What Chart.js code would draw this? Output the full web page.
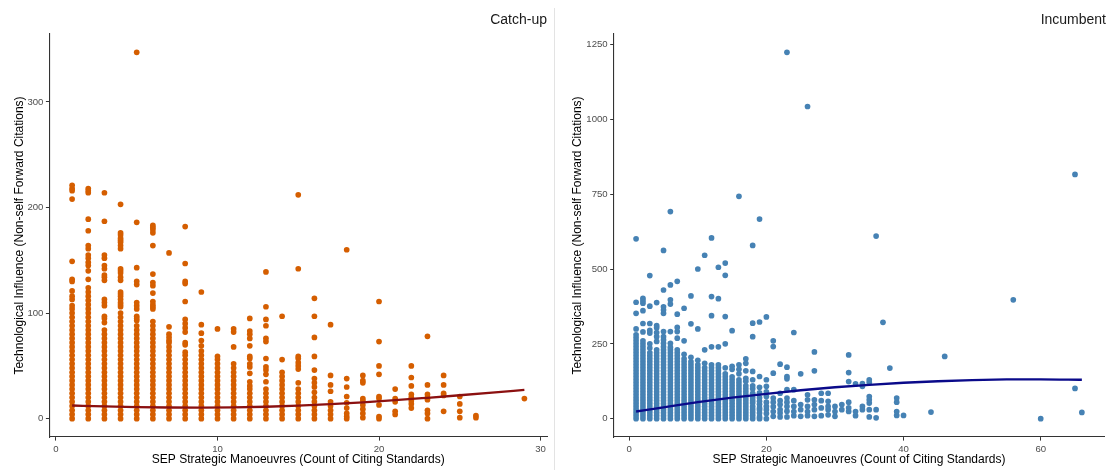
<!DOCTYPE html>
<html><head><meta charset="utf-8">
<script src="https://cdn.jsdelivr.net/npm/chart.js@4"></script>
<style>
html,body{margin:0;padding:0;background:#fff;width:1107px;height:470px;overflow:hidden}
#left{position:absolute;left:0;top:0}
#right{position:absolute;left:555px;top:0}
#sep{position:absolute;left:553.5px;top:8px;width:1px;height:462px;background:#e3e3e3}
</style></head><body>
<canvas id="left" width="553" height="470"></canvas>
<div id="sep"></div>
<canvas id="right" width="552" height="470"></canvas>
<script>
// ---------- Catch-up panel ----------
const catchupX = [1,2,3,4,5,6,7,8,9,10,11,12,13,14,15,16,17,18,19,20,21,22,23,24,25,26,29];
const catchupY = [
 [0,4,8,12,16,20,24,28,32,36,40,44,48,52,56,60,64,68,72,76,80,84,88,92,96,100,104,107,113,116,121,130,132,149,208,216,218,221],
 [0,4,8,12,16,20,24,28,32,36,40,44,48,52,56,60,64,68,72,76,80,84,88,92,96,100,104,108,112,116,120,124,132,140,145,148,152,155,161,164,178,189,214,216,218],
 [0,4,8,12,16,20,24,28,32,36,40,44,48,52,56,60,64,68,72,76,80,84,91,95,97,107,110,113,131,134,136,142,145,152,155,187,214],
 [0,4,8,12,16,20,24,28,32,36,40,44,48,52,56,60,64,68,72,76,80,84,88,92,96,100,106,108,110,113,116,118,120,131,134,138,140,142,161,164,167,169,171,174,176,203],
 [0,4,8,12,16,20,24,28,32,36,40,44,48,52,56,60,64,68,72,76,80,84,88,93,95,97,104,107,110,127,130,143,186,347],
 [0,4,8,12,16,20,24,28,32,36,40,44,48,52,56,60,64,68,72,76,80,84,88,92,104,106,108,111,119,126,129,137,164,176,179,181,183],
 [0,4,8,12,16,20,24,28,32,36,40,44,48,52,56,60,64,68,72,74,77,80,87,157],
 [0,4,8,12,16,20,24,28,32,36,40,44,48,52,56,60,63,70,72,82,86,90,94,111,128,130,147,182],
 [0,4,8,12,16,20,24,28,32,36,40,44,48,52,56,60,64,69,74,81,89,120],
 [0,4,8,12,16,20,24,28,32,36,40,44,48,52,56,59,85],
 [0,4,8,12,16,20,24,28,32,36,40,44,48,52,68,82,85],
 [0,4,8,12,16,20,24,28,31,35,43,49,52,57,59,69,76,80,83,95],
 [0,4,8,12,16,20,24,28,35,42,46,49,57,73,76,88,94,106,139],
 [0,4,8,12,16,20,24,28,32,36,40,44,56,97],
 [0,4,8,12,16,20,24,28,34,47,50,53,57,59,142,212],
 [0,4,8,12,16,20,25,30,34,38,46,59,77,97,114],
 [0,4,8,12,16,26,32,41,89],
 [0,2,5,10,15,21,30,38,160],
 [1,5,9,13,17,19,34,36,41],
 [0,2,13,19,21,42,50,73,111],
 [4,7,16,19,28],
 [10,14,17,20,23,31,39,50],
 [0,5,8,18,20,23,32,78],
 [7,22,24,32,41],
 [1,7,14,21],
 [1,3],
 [19]
];
const catchupFitX = [1,3,5,7,9,11,13,15,17,19,21,23,25,27,29];
const catchupFitY = [12.5,11.6,11.0,10.6,10.5,10.7,11.3,12.3,13.7,15.5,17.5,19.8,22.2,24.7,27.3];
const catchupXTicks = [0,10,20,30];
const catchupYTicks = [0,100,200,300];

// ---------- Incumbent panel ----------
const incumbentX = [1,2,3,4,5,6,7,8,9,10,11,12,13,14,15,16,17,18,19,20,21,22,23,24,25,26,27,28,29,30,31,32,33,34,35,36,37,38,39,40,44,46,56,60,65,66];
const incumbentY = [
 [0,10,20,30,40,50,60,70,80,90,100,110,120,130,140,150,160,170,180,190,200,210,220,230,240,250,260,270,280,300,352,389,601],
 [0,10,20,30,40,50,60,70,80,90,100,110,120,130,140,150,160,170,180,190,200,210,220,230,240,250,260,290,318,361,386,394,402],
 [0,10,20,30,40,50,60,70,80,90,100,110,120,130,140,150,160,170,180,190,200,210,220,236,250,286,295,318,376,478],
 [0,10,20,30,40,50,60,70,80,90,100,110,120,130,140,150,160,170,180,190,200,210,220,230,258,274,288,304,311,388],
 [0,10,20,30,40,50,60,70,80,90,100,110,120,130,140,150,160,170,180,190,200,210,220,230,240,252,263,274,291,352,363,374,430,562],
 [0,10,20,30,40,50,60,70,80,90,100,110,120,130,140,150,160,170,180,190,200,210,220,230,239,252,291,383,397,447,692],
 [0,10,20,30,40,50,60,70,80,90,100,110,120,130,140,150,160,170,180,190,200,210,220,230,269,291,305,349,459],
 [0,10,20,30,40,50,60,70,80,90,100,110,120,130,140,150,160,170,180,190,200,215,260,369],
 [0,10,20,30,40,50,60,70,80,90,100,110,120,130,140,150,160,170,180,190,205,317,410],
 [0,10,20,30,40,50,60,70,80,90,100,110,120,130,140,150,160,170,180,195,300,500],
 [0,10,20,30,40,50,60,70,80,90,100,110,120,130,140,150,160,170,185,230,546],
 [0,10,20,30,40,50,60,70,80,90,100,110,120,130,140,150,160,170,180,240,344,408,604],
 [0,10,20,30,40,50,60,70,80,90,100,110,120,130,140,150,160,170,180,240,401,506],
 [0,10,20,30,40,50,60,70,80,90,100,110,120,130,140,150,170,250,341,479,520],
 [0,10,20,30,40,50,60,70,80,90,100,110,120,130,140,165,175,294],
 [0,10,20,30,40,50,60,70,80,90,100,110,120,130,150,165,180,743],
 [0,10,20,30,40,50,60,70,80,90,100,110,125,135,160,185,200],
 [0,10,20,30,40,52,60,70,85,100,110,130,158,274,319,579],
 [0,6,19,30,36,48,58,70,86,105,141,323,667],
 [0,17,30,41,55,74,90,108,130,340],
 [8,24,40,55,69,152,241,260],
 [6,19,30,47,60,85,182],
 [6,25,41,55,69,97,133,141,172,1224],
 [10,24,41,60,97,288],
 [8,30,47,150],
 [10,24,41,63,80,1043],
 [8,30,47,63,160,223],
 [10,36,60,85],
 [13,30,41,58,85],
 [8,24,41],
 [30,47],
 [24,36,55,124,154,213],
 [10,24,116],
 [30,41,108,117],
 [6,30,52,63,74,121,130],
 [3,30,610],
 [322],
 [169],
 [11,24,55,69],
 [11],
 [22],
 [208],
 [397],
 [0],
 [101,816],
 [21]
];
const incumbentFitX = [1,5,10,15,20,25,30,35,40,45,50,55,60,66];
const incumbentFitY = [24,38,55,70,83,95,105,113,120,125,129,131,131.5,130];
const incumbentXTicks = [0,20,40,60];
const incumbentYTicks = [0,250,500,750,1000,1250];

const FONT = "'Liberation Sans', Arial, Helvetica, sans-serif";
const X_TITLE = 'SEP Strategic Manoeuvres (Count of Citing Standards)';
const Y_TITLE = 'Technological Influence (Non-self Forward Citations)';

function expand(vals){
  const mn = Math.min(...vals), mx = Math.max(...vals);
  const d = (mx - mn) * 0.05;
  return [mn - d, mx + d];
}

function makePanel(id, cfg){
  const pts = [];
  cfg.xs.forEach((x, i) => cfg.ys[i].forEach(y => pts.push({x: x, y: y})));
  const fit = cfg.fitX.map((x, i) => ({x: x, y: cfg.fitY[i]}));
  const xr = expand(pts.map(p => p.x));
  const yr = expand(pts.map(p => p.y));
  const axisCommon = () => ({
    grid: {display: true, drawOnChartArea: false, drawTicks: true, tickLength: 3.6, tickColor: '#333', tickWidth: 1},
    border: {display: true, color: '#333', width: 1.1},
    ticks: {color: '#4d4d4d', font: {family: FONT, size: 9.6}, padding: 2.5, callback: v => String(v)}
  });
  new Chart(document.getElementById(id), {
    data: {
      datasets: [
        {type: 'line', data: fit, borderColor: cfg.lineColor, borderWidth: 2.3, pointRadius: 0,
         cubicInterpolationMode: 'monotone', fill: false, order: 0},
        {type: 'scatter', data: pts, backgroundColor: cfg.pointColor, borderWidth: 0,
         pointRadius: cfg.radius, pointHoverRadius: cfg.radius, order: 1}
      ]
    },
    options: {
      responsive: false, animation: false, events: [],
      layout: {padding: {left: 0, right: cfg.padRight, top: 0, bottom: 0}},
      plugins: {
        legend: {display: false}, tooltip: {enabled: false},
        title: {display: true, text: cfg.title, align: 'end', color: '#1a1a1a',
                font: {family: FONT, size: 14, weight: 'normal'}, padding: {top: 11.6, bottom: 5.6}}
      },
      scales: {
        x: Object.assign(axisCommon(), {
          type: 'linear', min: xr[0], max: xr[1],
          afterBuildTicks: s => { s.ticks = cfg.xTicks.map(v => ({value: v})); },
          afterFit: s => { s.height = 33; },
          title: {display: true, text: X_TITLE, color: '#000', font: {family: FONT, size: 12}, padding: {top: 0, bottom: 2.8}}
        }),
        y: Object.assign(axisCommon(), {
          type: 'linear', min: yr[0], max: yr[1],
          afterBuildTicks: s => { s.ticks = cfg.yTicks.map(v => ({value: v})); },
          afterFit: s => { s.width = cfg.yWidth; },
          title: {display: true, text: Y_TITLE, color: '#000', font: {family: FONT, size: 12}, padding: {top: cfg.yTitlePad, bottom: 0}}
        })
      }
    }
  });
}

makePanel('left', {
  xs: catchupX, ys: catchupY, fitX: catchupFitX, fitY: catchupFitY,
  xTicks: catchupXTicks, yTicks: catchupYTicks,
  title: 'Catch-up', pointColor: '#D55E00', lineColor: '#8B1010', radius: 2.85,
  padRight: 6, yWidth: 49.5, yTitlePad: 12.3
});
makePanel('right', {
  xs: incumbentX, ys: incumbentY, fitX: incumbentFitX, fitY: incumbentFitY,
  xTicks: incumbentXTicks, yTicks: incumbentYTicks,
  title: 'Incumbent', pointColor: '#4682B4', lineColor: '#0A0A8A', radius: 2.85,
  padRight: 1, yWidth: 58.8, yTitlePad: 15.8
});
</script>
</body></html>
